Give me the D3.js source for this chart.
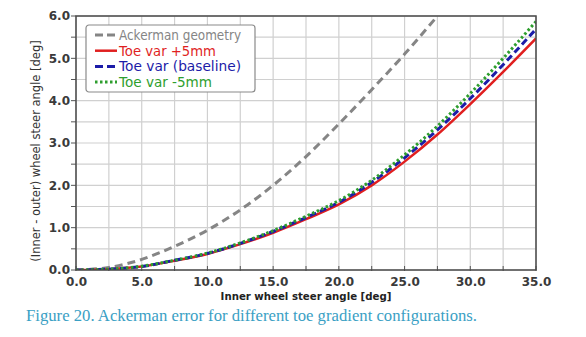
<!DOCTYPE html>
<html>
<head>
<meta charset="utf-8">
<script src="https://cdn.jsdelivr.net/npm/d3@7"></script>
<style>
  html, body { margin: 0; padding: 0; background: #ffffff; }
  svg { display: block; }
</style>
</head>
<body>
<svg id="chart" width="586" height="337"></svg>
<script>
// ---- data ----
const steerAngle   = [0, 2.5, 5, 7.5, 10, 12.5, 15, 17.5, 20, 22.5, 25, 27.5, 30, 32.5, 35];
const ackerman     = [0, 0.06, 0.25, 0.56, 0.94, 1.42, 2.0, 2.68, 3.45, 4.26, 5.1, 6.0];
const toePlus5     = [0, 0.02, 0.08, 0.22, 0.38, 0.61, 0.88, 1.20, 1.55, 2.00, 2.56, 3.20, 3.92, 4.68, 5.47];
const toeBaseline  = [0, 0.02, 0.08, 0.23, 0.39, 0.63, 0.91, 1.24, 1.60, 2.07, 2.65, 3.31, 4.05, 4.85, 5.69];
const toeMinus5    = [0, 0.02, 0.09, 0.23, 0.40, 0.64, 0.93, 1.27, 1.64, 2.12, 2.72, 3.40, 4.17, 5.00, 5.87];
const xTicks = [0, 5, 10, 15, 20, 25, 30, 35];
const yTicks = [0, 1, 2, 3, 4, 5, 6];
const legendLabels = ["Ackerman geometry", "Toe var +5mm", "Toe var (baseline)", "Toe var -5mm"];
const xTitle = "Inner wheel steer angle [deg]";
const yTitle = "(Inner - outer) wheel steer angle [deg]";
const caption = "Figure 20. Ackerman error for different toe gradient configurations.";

const seriesList = [
  { name: legendLabels[0], values: ackerman,    color: "#858585", dash: "8,5",  width: 3 },
  { name: legendLabels[1], values: toePlus5,    color: "#e01f1f", dash: null,   width: 2.5 },
  { name: legendLabels[2], values: toeBaseline, color: "#1c1ca8", dash: "7,4",  width: 3 },
  { name: legendLabels[3], values: toeMinus5,   color: "#2e9e2e", dash: "2.5,2.5", width: 3 }
];
// rendered label widths in the legend (layout)
const legendTextWidths = [122, 97, 122, 93];

// ---- layout ----
const svg = d3.select("#chart");
const m = { left: 76, top: 16, right: 50, bottom: 67 };
const W = 586 - m.left - m.right;   // 460
const H = 337 - m.top - m.bottom;   // 254

const x = d3.scaleLinear().domain([0, 35]).range([0, W]);
const y = d3.scaleLinear().domain([0, 6]).range([H, 0]);

svg.append("defs").append("clipPath").attr("id", "plotClip")
  .append("rect").attr("x", 0).attr("y", 0).attr("width", W).attr("height", H);

const g = svg.append("g").attr("transform", `translate(${m.left},${m.top})`);

// gridlines
const gridX = d3.range(0, 35.01, 2.5);
const gridY = d3.range(0, 6.01, 0.5);
g.append("g").selectAll("line").data(gridX).join("line")
  .attr("x1", d => x(d)).attr("x2", d => x(d)).attr("y1", 0).attr("y2", H)
  .attr("stroke", "#d0d0d0").attr("stroke-width", 1.2);
g.append("g").selectAll("line").data(gridY).join("line")
  .attr("x1", 0).attr("x2", W).attr("y1", d => y(d)).attr("y2", d => y(d))
  .attr("stroke", "#d0d0d0").attr("stroke-width", 1.2);

// axes
const xAxis = d3.axisBottom(x).tickValues(xTicks).tickFormat(d3.format(".1f")).tickSize(0).tickPadding(7);
const yAxis = d3.axisLeft(y).tickValues(yTicks).tickFormat(d3.format(".1f")).tickSize(0).tickPadding(6);

const gx = g.append("g").attr("transform", `translate(0,${H})`).call(xAxis);
const gy = g.append("g").call(yAxis);
[gx, gy].forEach(a => {
  a.select(".domain").remove();
  a.selectAll("text").attr("font-family", "DejaVu Sans, Verdana, sans-serif")
    .attr("font-size", 12).attr("font-weight", "bold").attr("fill", "#3a3a3a");
});

// minor tick marks
g.append("g").selectAll("line").data(gridX).join("line")
  .attr("x1", d => x(d)).attr("x2", d => x(d)).attr("y1", H - 4).attr("y2", H + 1)
  .attr("stroke", "#555").attr("stroke-width", 1);
g.append("g").selectAll("line").data(gridY).join("line")
  .attr("x1", -5).attr("x2", 0).attr("y1", d => y(d)).attr("y2", d => y(d))
  .attr("stroke", "#555").attr("stroke-width", 1);

// series lines
const line = d3.line()
  .x((d, i) => x(steerAngle[i]))
  .y(d => y(d))
  .curve(d3.curveMonotoneX);

const plot = g.append("g").attr("clip-path", "url(#plotClip)");
seriesList.forEach(s => {
  plot.append("path")
    .datum(s.values)
    .attr("d", line)
    .attr("fill", "none")
    .attr("stroke", s.color)
    .attr("stroke-width", s.width)
    .attr("stroke-dasharray", s.dash);
});

// frame
g.append("rect").attr("x", 0).attr("y", 0).attr("width", W).attr("height", H)
  .attr("fill", "none").attr("stroke", "#4a4a4a").attr("stroke-width", 1.5);

// legend
const lg = g.append("g").attr("transform", `translate(${86 - m.left},${25 - m.top})`);
lg.append("rect").attr("x", 0).attr("y", 0).attr("width", 169).attr("height", 67)
  .attr("rx", 3).attr("fill", "#ffffff").attr("stroke", "#8a8a8a").attr("stroke-width", 1.2);
seriesList.forEach((s, i) => {
  const yy = 10 + i * 15.7;
  lg.append("line").attr("x1", 9).attr("x2", 31).attr("y1", yy).attr("y2", yy)
    .attr("stroke", s.color).attr("stroke-width", s.width)
    .attr("stroke-dasharray", s.dash ? (i === 0 || i === 2 ? "8,4" : s.dash) : null);
  lg.append("text").attr("x", 33).attr("y", yy + 5)
    .attr("font-family", "DejaVu Sans, Verdana, sans-serif")
    .attr("font-size", 14)
    .attr("fill", s.color)
    .attr("textLength", legendTextWidths[i])
    .attr("lengthAdjust", "spacingAndGlyphs")
    .text(s.name);
});

// axis titles
svg.append("text")
  .attr("x", m.left + W / 2).attr("y", 300)
  .attr("text-anchor", "middle")
  .attr("font-family", "DejaVu Sans, Verdana, sans-serif")
  .attr("font-size", 10.2).attr("font-weight", "bold").attr("fill", "#222")
  .text(xTitle);

svg.append("text")
  .attr("transform", `translate(40,151) rotate(-90)`)
  .attr("text-anchor", "middle")
  .attr("font-family", "DejaVu Sans, Verdana, sans-serif")
  .attr("font-size", 11.5).attr("fill", "#333")
  .text(yTitle);

// caption
svg.append("text")
  .attr("x", 26).attr("y", 321)
  .attr("font-family", "Liberation Serif, Times New Roman, serif")
  .attr("font-size", 16.7).attr("fill", "#3aa0c4")
  .text(caption);
</script>
</body>
</html>
